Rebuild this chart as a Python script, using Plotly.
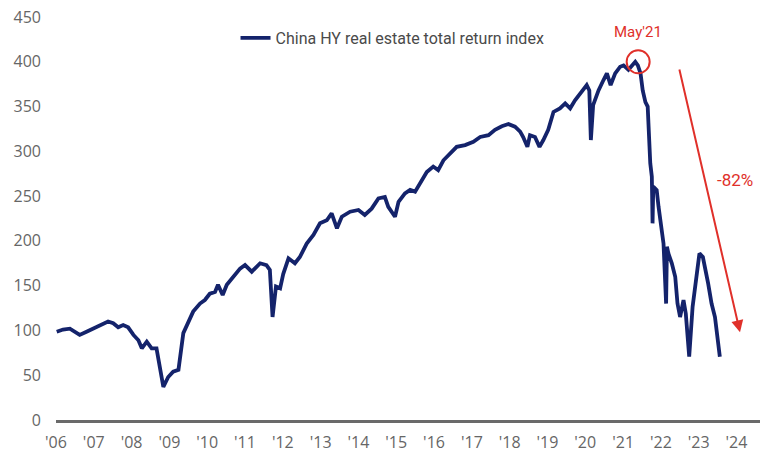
import plotly.graph_objects as go

# China HY real estate total return index (rebased to ~100 in Jan 2006)
dates = [
    "2006-01-08", "2006-03-10", "2006-05-15", "2006-07-01", "2006-08-18",
    "2006-10-23", "2006-12-28", "2007-03-01", "2007-05-19", "2007-07-08",
    "2007-08-25", "2007-10-12", "2007-11-29", "2008-01-19", "2008-03-07",
    "2008-04-09", "2008-05-27", "2008-07-13", "2008-08-29", "2008-11-03",
    "2008-12-20", "2009-02-06", "2009-03-29", "2009-05-15", "2009-07-02",
    "2009-08-18", "2009-10-23", "2009-12-09", "2010-01-26", "2010-03-17",
    "2010-04-15", "2010-05-30", "2010-07-09", "2010-09-09", "2010-11-14",
    "2011-01-01", "2011-03-07", "2011-05-27", "2011-07-27", "2011-08-29",
    "2011-09-24", "2011-10-27", "2011-12-06", "2012-01-05", "2012-02-25",
    "2012-04-27", "2012-06-14", "2012-08-19", "2012-10-23", "2012-12-25",
    "2013-03-01", "2013-04-17", "2013-06-07", "2013-07-24", "2013-10-12",
    "2014-01-01", "2014-03-03", "2014-05-08", "2014-07-13", "2014-09-13",
    "2014-10-16", "2014-12-20", "2015-01-23", "2015-03-26", "2015-05-15",
    "2015-07-02", "2015-08-19", "2015-10-23", "2015-12-24", "2016-02-10",
    "2016-04-01", "2016-06-03", "2016-08-07", "2016-10-27", "2017-01-15",
    "2017-03-22", "2017-06-10", "2017-08-12", "2017-10-17", "2017-12-20",
    "2018-02-21", "2018-04-12", "2018-05-11", "2018-06-21", "2018-07-16",
    "2018-09-02", "2018-10-16", "2018-11-22", "2019-01-08", "2019-02-28",
    "2019-05-01", "2019-06-21", "2019-08-08", "2019-09-24", "2019-11-29",
    "2020-01-15", "2020-02-09", "2020-02-24", "2020-03-17", "2020-05-08",
    "2020-06-25", "2020-07-28", "2020-09-02", "2020-10-16", "2020-12-03",
    "2021-01-05", "2021-02-21", "2021-03-26", "2021-04-28", "2021-05-23",
    "2021-06-18", "2021-07-09", "2021-08-04", "2021-08-26", "2021-09-02",
    "2021-09-20", "2021-10-05", "2021-10-12", "2021-10-19", "2021-11-21",
    "2021-12-09", "2022-01-11", "2022-01-26", "2022-02-20", "2022-02-28",
    "2022-03-14", "2022-04-16", "2022-05-19", "2022-06-10", "2022-07-05",
    "2022-08-07", "2022-08-29", "2022-10-01", "2022-11-03", "2022-12-06",
    "2023-01-08", "2023-02-10", "2023-03-04", "2023-04-02", "2023-05-05",
    "2023-06-07", "2023-07-24",
]
index_values = [
    98.6, 101, 102, 98.6, 95,
    98.6, 102, 105, 110, 108,
    103.5, 106, 103.5, 95, 89,
    80, 87.5, 80, 80, 37,
    48, 54, 56, 97, 110,
    121, 130, 134, 141, 143,
    151, 139.5, 151, 160, 169,
    173, 165.6, 175, 173, 167.5,
    115, 149, 147, 163, 180.5,
    175, 182, 197, 206.6, 219.6,
    223, 230.7, 214, 227, 232.6,
    234.5, 229, 236, 247.5, 249,
    238, 227, 243.7, 253, 257,
    255, 264, 277, 283, 279,
    290, 297.8, 305, 307, 310.7,
    316, 318, 324, 328, 330.5,
    327.5, 322, 316, 305, 318,
    316, 305, 312.6, 324, 344,
    348, 353.5, 348, 357, 366.6,
    374, 368, 312.6, 351.7, 368,
    379.6, 387, 374, 387, 394.5,
    396, 391, 396, 400, 396,
    387, 368, 355, 350, 324,
    286.6, 271.7, 219.6, 260.5, 256.8,
    238, 212, 197, 130, 193.5,
    186, 175, 160, 130, 115,
    134, 119, 70.7, 126.5, 160,
    186, 182, 171, 152.6, 130,
    115, 70.7,
]

series_name = "China HY real estate total return index"
y_ticks = [0, 50, 100, 150, 200, 250, 300, 350, 400, 450]

peak_date, peak_value, peak_label = "2021-05-26", 400, "May'21"
drop_label = "-82%"
drop_start = ("2022-06-25", 393)
drop_end = ("2024-02-04", 98)

NAVY = "#14236b"
RED = "#e0302a"
GREY = "#666666"
TEXT_FONT = "Roboto"

fig = go.Figure()
fig.add_trace(go.Scatter(
    x=dates, y=index_values, mode="lines", name=series_name,
    line=dict(color=NAVY, width=3.8),
))

# circle around the May'21 peak
fig.add_shape(
    type="circle", xref="x", yref="y",
    xsizemode="pixel", ysizemode="pixel",
    xanchor=peak_date, yanchor=peak_value,
    x0=-11.5, x1=11.5, y0=-11.5, y1=11.5,
    line=dict(color=RED, width=2),
)
fig.add_annotation(
    x=peak_date, y=433, xref="x", yref="y", text=peak_label,
    showarrow=False, font=dict(color=RED, size=15, family=TEXT_FONT),
)
# drawdown arrow
fig.add_annotation(
    x=drop_end[0], y=drop_end[1], ax=drop_start[0], ay=drop_start[1],
    xref="x", yref="y", axref="x", ayref="y", text="",
    showarrow=True, arrowhead=2, arrowsize=1.2, arrowwidth=2, arrowcolor=RED,
)
fig.add_annotation(
    x="2023-12-18", y=268, xref="x", yref="y", text=drop_label,
    showarrow=False, font=dict(color=RED, size=17, family=TEXT_FONT),
)

fig.update_layout(
    width=760, height=456,
    margin=dict(l=56, r=0, t=17, b=36),
    paper_bgcolor="white", plot_bgcolor="white",
    font=dict(family="Open Sans", color=GREY, size=16),
    showlegend=True,
    legend=dict(
        x=0.255, y=0.948, xref="paper", yref="paper",
        xanchor="left", yanchor="middle",
        bgcolor="rgba(0,0,0,0)",
        font=dict(family=TEXT_FONT, size=16, color="#4a4a4a"),
    ),
    xaxis=dict(
        type="date", range=["2006-01-01", "2024-08-15"],
        tick0="2006-01-01", dtick="M12", tickformat="'%y",
        showgrid=False, zeroline=False,
        showline=True, linecolor="#6a6a6a", linewidth=2.5,
        ticks="", ticklabelstandoff=6,
    ),
    yaxis=dict(
        range=[0, 450], tickvals=y_ticks,
        showgrid=False, zeroline=False, showline=False,
        ticks="", ticklabelstandoff=14,
    ),
)

fig.write_html("out.html")
